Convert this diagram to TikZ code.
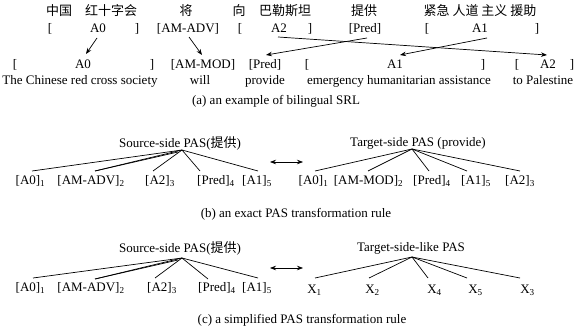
\documentclass[tikz,border=0pt]{standalone}
\usepackage{fontspec}
\setmainfont{Liberation Serif}
\newfontfamily\cjk{Noto Sans CJK SC}
\usetikzlibrary{arrows.meta,calc}
\begin{document}
\begin{tikzpicture}[x=1pt,y=-1pt,
  every node/.style={inner sep=0pt,text height=8.6pt,text depth=0pt,font=\fontsize{13}{15}\selectfont},
  lbl/.style={},
  zh/.style={font=\fontsize{13}{15}\selectfont\cjk},
  arr/.style={line width=0.7pt,-{Stealth[length=6pt,width=4.5pt]}},
  dbl/.style={line width=0.7pt,{Stealth[length=6pt,width=4.5pt]}-{Stealth[length=6pt,width=4.5pt]}},
  br/.style={line width=0.7pt}]
\useasboundingbox (0,0) rectangle (586,326);
% ---------- (a) ----------
\node[zh] (z1) at (59,11) {中国};
\node[zh] (z2) at (111,11) {红十字会};
\node[zh] (z3) at (186,11) {将};
\node[zh] (z4) at (239,11) {向};
\node[zh] (z5) at (285,11) {巴勒斯坦};
\node[zh] (z6) at (364,11) {提供};
\node[zh] (z7) at (480,11) {紧急 人道 主义 援助};
% row 2
\node (b1) at (50,28) {[};
\node (a0s) at (98,28) {A0};
\node (b2) at (137,28) {]};
\node (advs) at (188,28) {[AM-ADV]};
\node (b3) at (240,28) {[};
\node (a2s) at (279,28) {A2};
\node (b4) at (310,28) {]};
\node (preds) at (365,28) {[Pred]};
\node (b5) at (427,28) {[};
\node (a1s) at (480,28) {A1};
\node (b6) at (537,28) {]};
% row 3
\node (c1) at (15,64) {[};
\node (a0t) at (83,64) {A0};
\node (c2) at (152,64) {]};
\node (modt) at (203,64) {[AM-MOD]};
\node (predt) at (265,64) {[Pred]};
\node (c3) at (307,64) {[};
\node (a1t) at (395,64) {A1};
\node (c4) at (483,64) {]};
\node (c5) at (517,64) {[};
\node (a2t) at (548,64) {A2};
\node (c6) at (572,64) {]};
% row 4
\node (e1) at (80,80) {The Chinese red cross society};
\node (e2) at (200,80) {will};
\node (e3) at (265,80) {provide};
\node (e4) at (399,80) {emergency humanitarian assistance};
\node (e5) at (543,80) {to Palestine};
% arrows
\draw[arr] ($(a0s)+(-1,10)$) -- ($(a0t)+(3,-10)$);
\draw[arr] ($(advs)+(1,9)$) -- ($(modt)+(-1,-9)$);
\draw[arr] ($(a2s)+(-1,9)$) -- ($(a2t)+(-1,-9)$);
\draw[arr] ($(preds)+(2,10)$) -- ($(predt)+(1,-9)$);
\draw[arr] ($(a1s)+(7,10)$) -- ($(a1t)+(5,-9)$);
\node (capa) at (276,100) {(a) an example of bilingual SRL};
% ---------- (b) ----------
\node (sb) at (180,143) {Source-side PAS({\cjk 提供})};
\coordinate (sbx) at (182,150);
\node (sb1) at (30.5,180) {[A0]\textsubscript{1}};
\node (sb2) at (91,180) {[AM-ADV]\textsubscript{2}};
\node (sb3) at (160,180) {[A2]\textsubscript{3}};
\node (sb4) at (216,180) {[Pred]\textsubscript{4}};
\node (sb5) at (257,180) {[A1]\textsubscript{5}};
\draw[br] (sbx) -- ($(sb1)+(1.5,-9)$);
\draw[br] (sbx) -- ($(sb2)+(4,-9)$);
\draw[br] ($(sbx)+(-4,2)$) -- ($(sb2)+(4,-9)$);
\draw[br] (sbx) -- ($(sb3)+(-7,-9)$);
\draw[br] (sbx) -- ($(sb4)+(-16,-9)$);
\draw[br] (sbx) -- ($(sb5)+(1,-9)$);
\coordinate (dbl1) at (270,162);
\coordinate (dbr1) at (303,162);
\draw[dbl] (dbl1) -- (dbr1);
\node (tb) at (418,142) {Target-side PAS (provide)};
\coordinate (tbx) at (412,149);
\node (tb1) at (313.5,180) {[A0]\textsubscript{1}};
\node (tb2) at (368.5,180) {[AM-MOD]\textsubscript{2}};
\node (tb3) at (432,180) {[Pred]\textsubscript{4}};
\node (tb4) at (476,180) {[A1]\textsubscript{5}};
\node (tb5) at (520,180) {[A2]\textsubscript{3}};
\draw[br] (tbx) -- ($(tb1)+(1.5,-9)$);
\draw[br] (tbx) -- ($(tb2)+(-0.5,-9)$);
\draw[br] (tbx) -- ($(tb3)+(-3,-9)$);
\draw[br] (tbx) -- ($(tb4)+(-9,-9)$);
\draw[br] (tbx) -- ($(tb5)+(0,-9)$);
\node (capb) at (296,213) {(b) an exact PAS transformation rule};
% ---------- (c) ----------
\node (sc) at (180,248) {Source-side PAS({\cjk 提供})};
\coordinate (scx) at (182,258);
\node (sc1) at (30.5,287) {[A0]\textsubscript{1}};
\node (sc2) at (91,287) {[AM-ADV]\textsubscript{2}};
\node (sc3) at (162,287) {[A2]\textsubscript{3}};
\node (sc4) at (217,287) {[Pred]\textsubscript{4}};
\node (sc5) at (257,287) {[A1]\textsubscript{5}};
\draw[br] (scx) -- ($(sc1)+(2.5,-9)$);
\draw[br] (scx) -- ($(sc2)+(4,-8)$);
\draw[br] ($(scx)+(-4,2)$) -- ($(sc2)+(4,-8)$);
\draw[br] (scx) -- ($(sc3)+(-7,-9)$);
\draw[br] (scx) -- ($(sc4)+(-9,-8)$);
\draw[br] (scx) -- ($(sc5)+(1,-9)$);
\coordinate (dbl2) at (270,268);
\coordinate (dbr2) at (303,268);
\draw[dbl] (dbl2) -- (dbr2);
\node (tc) at (411,247) {Target-side-like PAS};
\coordinate (tcx) at (412,257);
\node (tc1) at (314.5,289) {X\textsubscript{1}};
\node (tc2) at (372.5,289) {X\textsubscript{2}};
\node (tc3) at (434.5,289) {X\textsubscript{4}};
\node (tc4) at (475.5,289) {X\textsubscript{5}};
\node (tc5) at (527.5,289) {X\textsubscript{3}};
\draw[br] (tcx) -- ($(tc1)+(0.5,-11)$);
\draw[br] (tcx) -- ($(tc2)+(-3.5,-11)$);
\draw[br] (tcx) -- ($(tc3)+(-6.5,-11)$);
\draw[br] (tcx) -- ($(tc4)+(-8.5,-11)$);
\draw[br] (tcx) -- ($(tc5)+(-7.5,-11)$);
\node (capc) at (302,319) {(c) a simplified PAS transformation rule};
\end{tikzpicture}
\end{document}
